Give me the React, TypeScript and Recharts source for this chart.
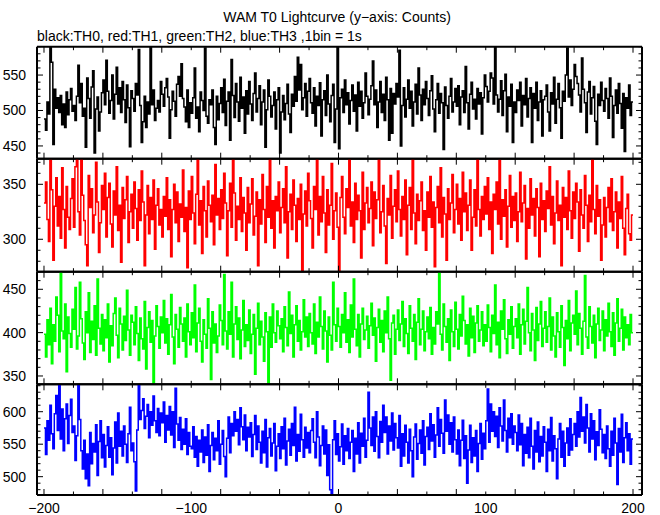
import { Line, LineChart, XAxis, YAxis } from "recharts";

// WAM T0 lightcurves, 1 s bins from t = -200 s
const TIME_START = -200;

const th0 = [
  488, 472, 512, 495, 589, 568, 452, 530, 503, 518, 497, 521, 480, 509, 476, 526, 494, 515, 531, 499,
  507, 486, 520, 564, 511, 538, 492, 503, 448, 546, 517, 489, 533, 556, 440, 502, 519, 471, 498, 525,
  543, 508, 571, 527, 496, 514, 550, 488, 523, 561, 509, 532, 497, 541, 515, 483, 536, 504, 449, 528,
  517, 499, 538, 522, 586, 507, 455, 484, 520, 476, 512, 495, 590, 508, 529, 486, 503, 514, 498, 541,
  523, 506, 532, 545, 519, 461, 501, 527, 513, 492, 537, 548, 520, 566, 517, 505, 484, 529, 476, 511,
  496, 518, 560, 489, 505, 470, 526, 514, 500, 588, 492, 482, 515, 508, 529, 476, 452, 520, 487, 510,
  532, 497, 544, 479, 513, 526, 458, 572, 521, 490, 538, 512, 485, 547, 503, 519, 468, 528, 495, 541,
  509, 486, 524, 553, 498, 517, 535, 480, 512, 529, 448, 501, 543, 520, 491, 507, 526, 474, 515, 532,
  440, 498, 521, 487, 510, 537, 495, 469, 523, 506, 548, 513, 575, 529, 565, 501, 518, 538, 492, 527,
  545, 511, 496, 532, 478, 520, 507, 539, 464, 515, 528, 493, 550, 509, 484, 521, 537, 455, 502, 590,
  446, 518, 530, 497, 543, 508, 525, 481, 514, 536, 499, 522, 471, 540, 506, 527, 489, 511, 553, 520,
  494, 516, 535, 570, 508, 529, 476, 512, 541, 497, 523, 486, 547, 515, 458, 531, 468, 524, 509, 538,
  519, 585, 450, 507, 532, 491, 516, 543, 503, 527, 478, 512, 537, 495, 560, 522, 486, 530, 508, 541,
  517, 493, 528, 549, 502, 470, 515, 538, 496, 524, 511, 445, 533, 507, 489, 520, 545, 498, 512, 531,
  506, 535, 480, 519, 528, 497, 562, 511, 474, 523, 540, 502, 516, 488, 531, 509, 525, 467, 518, 550,
  534, 512, 527, 553, 546, 509, 590, 522, 498, 516, 542, 493, 528, 551, 470, 519, 506, 537, 455, 512,
  497, 529, 514, 540, 478, 521, 508, 545, 491, 517, 532, 455, 524, 503, 540, 486, 512, 528, 464, 515,
  520, 536, 498, 471, 525, 509, 547, 482, 516, 538, 504, 461, 527, 513, 550, 588, 519, 543, 507, 530,
  565, 548, 538, 522, 498, 574, 530, 511, 469, 526, 541, 495, 518, 534, 485, 452, 523, 507, 540, 514,
  499, 531, 517, 489, 546, 520, 462, 507, 529, 496, 538, 510, 475, 524, 442, 518, 503, 536, 493, 512,
];

const th1 = [
  333, 352, 318, 298, 372, 345, 281, 330, 356, 312, 339, 301, 365, 327, 292, 348, 320, 309, 337, 355,
  311, 366, 378, 325, 304, 381, 340, 317, 295, 276, 358, 329, 346, 306, 322, 370, 334, 288, 315, 349,
  327, 360, 302, 338, 351, 314, 293, 344, 322, 366, 308, 331, 279, 347, 319, 336, 357, 297, 325, 341,
  310, 352, 328, 299, 345, 317, 362, 334, 276, 322, 349, 305, 338, 318, 354, 291, 331, 346, 313, 327,
  302, 339, 321, 356, 309, 336, 284, 327, 350, 315, 343, 298, 332, 320, 363, 307, 329, 274, 344, 318,
  357, 324, 296, 341, 378, 313, 335, 287, 348, 326, 302, 353, 331, 316, 340, 295, 368, 322, 337, 309,
  345, 319, 360, 333, 285, 326, 351, 311, 375, 342, 299, 330, 318, 356, 307, 338, 324, 290, 347, 315,
  332, 355, 304, 321, 343, 276, 336, 314, 359, 327, 297, 348, 320, 377, 310, 335, 292, 339, 326, 352,
  306, 329, 346, 315, 366, 283, 325, 341, 309, 354, 331, 298, 337, 318, 350, 271, 323, 344, 312, 360,
  335, 319, 292, 348, 327, 382, 304, 339, 316, 357, 324, 288, 345, 313, 331, 369, 300, 326, 342, 311,
  271, 338, 357, 320, 305, 346, 329, 374, 312, 334, 297, 351, 318, 340, 326, 283, 361, 309, 333, 347,
  315, 328, 352, 294, 343, 319, 336, 376, 306, 325, 349, 312, 278, 337, 322, 358, 301, 330, 345, 316,
  362, 327, 303, 339, 318, 354, 286, 331, 347, 309, 373, 324, 296, 341, 317, 335, 352, 308, 326, 290,
  343, 320, 357, 311, 334, 275, 329, 348, 315, 365, 302, 338, 323, 281, 346, 318, 333, 359, 306, 327,
  350, 314, 337, 299, 361, 325, 342, 308, 331, 354, 290, 320, 345, 312, 376, 327, 303, 339, 318, 348,
  323, 356, 309, 334, 287, 341, 327, 352, 314, 372, 300, 336, 321, 345, 293, 330, 358, 311, 339, 317,
  342, 298, 325, 361, 316, 333, 349, 282, 328, 310, 355, 322, 337, 303, 346, 329, 284, 351, 318, 335,
  307, 344, 328, 366, 313, 339, 296, 324, 353, 317, 331, 276, 347, 320, 338, 309, 362, 326, 301, 343,
  319, 351, 334, 289, 345, 322, 310, 358, 331, 298, 340, 316, 375, 327, 305, 349, 321, 336, 281, 313,
  338, 302, 329, 347, 316, 355, 308, 325, 343, 292, 334, 319, 357, 310, 286, 328, 341, 305, 299, 322,
];

const th2 = [
  398, 372, 415, 386, 428, 364, 409, 390, 441, 420, 378, 470, 402, 393, 433, 355, 418, 399, 383, 427,
  404, 452, 381, 396, 458, 416, 388, 369, 424, 400, 446, 377, 413, 392, 431, 374, 462, 405, 387, 421,
  379, 415, 394, 433, 366, 408, 385, 422, 440, 397, 371, 428, 410, 380, 419, 391, 449, 403, 374, 420,
  412, 386, 430, 399, 368, 417, 393, 381, 436, 358, 406, 424, 389, 414, 342, 396, 431, 407, 382, 418,
  400, 437, 388, 416, 375, 409, 444, 395, 364, 421, 404, 383, 429, 410, 390, 417, 372, 433, 401, 386,
  423, 394, 455, 378, 411, 428, 390, 366, 415, 398, 382, 439, 405, 346, 424, 388, 410, 377, 396, 432,
  414, 386, 467, 402, 381, 424, 398, 458, 372, 410, 430, 392, 417, 370, 403, 437, 384, 409, 391, 426,
  376, 398, 421, 352, 405, 434, 386, 413, 395, 367, 423, 401, 341, 418, 383, 433, 400, 389, 425, 408,
  393, 416, 378, 430, 406, 385, 447, 399, 420, 372, 409, 431, 390, 414, 380, 401, 438, 395, 418, 384,
  422, 400, 387, 433, 376, 412, 395, 441, 407, 381, 425, 402, 366, 418, 397, 380, 458, 409, 390, 428,
  407, 383, 421, 400, 446, 389, 415, 377, 432, 395, 462, 404, 385, 421, 372, 410, 428, 392, 403, 419,
  382, 408, 434, 397, 417, 367, 406, 427, 389, 414, 378, 425, 400, 441, 393, 345, 411, 420, 375, 404,
  426, 391, 410, 436, 384, 416, 399, 376, 431, 405, 390, 421, 369, 412, 439, 386, 404, 425, 379, 401,
  418, 393, 429, 375, 406, 387, 424, 410, 470, 398, 380, 433, 407, 389, 416, 368, 426, 401, 384, 435,
  404, 381, 421, 396, 442, 414, 387, 409, 373, 428, 394, 419, 377, 411, 431, 390, 403, 424, 385, 409,
  390, 432, 406, 378, 420, 399, 455, 386, 412, 371, 425, 404, 438, 393, 376, 415, 398, 430, 382, 407,
  416, 394, 433, 375, 409, 427, 387, 413, 452, 400, 379, 422, 403, 368, 429, 391, 410, 436, 384, 405,
  424, 389, 407, 440, 380, 418, 396, 372, 423, 401, 383, 431, 406, 362, 414, 393, 437, 379, 411, 420,
  398, 448, 386, 422, 405, 375, 413, 466, 395, 382, 430, 407, 388, 420, 371, 410, 428, 391, 403, 425,
  379, 415, 396, 434, 401, 384, 423, 374, 411, 439, 390, 405, 427, 380, 418, 394, 409, 386, 421, 400,
];

const th3 = [
  575, 534, 586, 556, 610, 566, 543, 597, 625, 571, 641, 558, 604, 540, 589, 612, 551, 594, 619, 568,
  578, 525, 563, 640, 588, 540, 512, 556, 497, 535, 486, 568, 520, 551, 538, 580, 502, 554, 586, 529,
  565, 515, 548, 577, 530, 560, 503, 544, 584, 521, 598, 547, 570, 532, 578, 550, 522, 566, 607, 540,
  552, 523, 478, 572, 640, 588, 602, 620, 574, 593, 611, 560, 600, 579, 624, 586, 568, 605, 563, 598,
  583, 615, 553, 594, 572, 608, 564, 600, 545, 636, 581, 556, 591, 542, 573, 550, 589, 534, 568, 547,
  543, 577, 530, 562, 516, 556, 538, 572, 522, 561, 533, 580, 508, 548, 568, 526, 559, 540, 586, 519,
  550, 571, 531, 500, 559, 592, 537, 582, 563, 600, 570, 588, 549, 606, 577, 557, 595, 540, 576, 561,
  583, 531, 565, 594, 542, 578, 553, 521, 570, 537, 588, 515, 560, 574, 532, 552, 582, 509, 547, 566,
  528, 577, 543, 590, 518, 555, 573, 533, 582, 548, 607, 524, 565, 539, 596, 557, 530, 576, 544, 568,
  537, 571, 589, 553, 529, 600, 561, 517, 548, 578, 535, 572, 502, 549, 480, 472, 557, 586, 534, 566,
  524, 546, 581, 519, 563, 540, 574, 528, 553, 571, 508, 559, 535, 583, 521, 567, 547, 590, 530, 556,
  630, 575, 548, 592, 539, 600, 562, 529, 585, 553, 610, 568, 592, 535, 578, 555, 598, 541, 582, 560,
  544, 594, 516, 566, 532, 579, 553, 521, 573, 540, 500, 561, 581, 527, 551, 572, 536, 586, 518, 562,
  576, 542, 597, 555, 580, 530, 564, 606, 547, 588, 567, 536, 618, 570, 595, 550, 583, 538, 592, 557,
  535, 572, 517, 556, 587, 528, 563, 490, 541, 579, 522, 560, 532, 571, 508, 551, 582, 527, 567, 543,
  586, 635, 553, 612, 570, 600, 562, 593, 545, 606, 578, 555, 618, 571, 538, 590, 560, 597, 550, 578,
  568, 540, 595, 549, 582, 517, 565, 536, 576, 529, 590, 547, 512, 571, 538, 584, 523, 562, 532, 577,
  553, 508, 573, 540, 591, 524, 563, 543, 497, 558, 582, 530, 570, 516, 552, 575, 533, 589, 541, 565,
  582, 547, 600, 561, 622, 570, 592, 552, 611, 575, 538, 597, 558, 586, 526, 569, 548, 603, 573, 537,
  565, 528, 578, 543, 516, 570, 533, 590, 552, 488, 574, 538, 596, 522, 560, 583, 540, 566, 519, 558,
];

const X_DOMAIN = [-204.75, 206.11];
const X_TICKS = [
  -200, -180, -160, -140, -120, -100, -80, -60, -40, -20, 0, 20, 40, 60, 80, 100, 120, 140, 160, 180, 200,
];
const X_LABELS = [-200, -100, 0, 100, 200];

const Y_LABELS_TH0 = [450, 500, 550];
const Y_LABELS_TH1 = [300, 350];
const Y_LABELS_TH2 = [350, 400, 450];
const Y_LABELS_TH3 = [500, 550, 600];

const W = 660;
const H = 515;
const PLOT_LEFT = 37;
const PLOT_RIGHT = 642;
const AXIS = 1; // thickness reserved for each axis box
const FONT = "'Liberation Sans', Arial, Helvetica, sans-serif";

function tenTicks(lo: number, hi: number) {
  const out: number[] = [];
  for (let v = Math.ceil(lo / 10) * 10; v <= hi; v += 10) out.push(v);
  return out;
}

const fmt = (v: number) => (v < 0 ? "\u2212" + Math.abs(v) : String(v));

const panels = [
  { id: "th0", values: th0, color: "#000000", domain: [432, 590], labels: Y_LABELS_TH0, top: 46.7, bottom: 158.7 },
  { id: "th1", values: th1, color: "#ff0000", domain: [270.5, 373.3], labels: Y_LABELS_TH1, top: 158.7, bottom: 271.7 },
  { id: "th2", values: th2, color: "#00ff00", domain: [340.4, 470.3], labels: Y_LABELS_TH2, top: 271.7, bottom: 384.3 },
  { id: "th3", values: th3, color: "#0000ff", domain: [471.8, 642.2], labels: Y_LABELS_TH3, top: 384.3, bottom: 495 },
];

function XTick(props: any) {
  const { x, y, payload, side, showLabel } = props;
  const v = payload.value as number;
  const len = v % 40 === 0 ? 6 : 3.5;
  const dir = side === "top" ? 1 : -1;
  return (
    <g>
      <line x1={x} x2={x} y1={y} y2={y + dir * len} stroke="#000" strokeWidth={1} />
      {showLabel && X_LABELS.includes(v) && (
        <text x={x} y={y + 18} textAnchor="middle" fontSize={14} fontFamily={FONT} fill="#000">
          {fmt(v)}
        </text>
      )}
    </g>
  );
}

function YTick(props: any) {
  const { x, y, payload, side, labels } = props;
  const v = payload.value as number;
  const major = labels.includes(v);
  const len = major ? 6 : 3.5;
  const dir = side === "left" ? 1 : -1;
  return (
    <g>
      <line x1={x} x2={x + dir * len} y1={y} y2={y} stroke="#000" strokeWidth={1} />
      {side === "left" && major && (
        <text x={x - 11} y={y + 5} textAnchor="end" fontSize={14} fontFamily={FONT} fill="#000">
          {v}
        </text>
      )}
    </g>
  );
}

function Panel({ p, last }: { p: (typeof panels)[number]; last: boolean }) {
  const data = p.values.map((v, i) => ({ t: TIME_START + i, v }));
  data.push({ t: TIME_START + p.values.length, v: p.values[p.values.length - 1] });
  const yTicks = tenTicks(p.domain[0], p.domain[1]);
  const axisLine = { stroke: "#000", strokeWidth: 2 };
  const common = {
    type: "number" as const,
    allowDataOverflow: true,
    interval: 0 as const,
    tickSize: 0,
    tickMargin: 0,
    tickLine: false,
    axisLine,
  };
  return (
    <div style={{ position: "absolute", left: 0, top: 0 }}>
      <LineChart
        width={W}
        height={H}
        data={data}
        margin={{
          top: p.top - AXIS,
          bottom: H - p.bottom - AXIS,
          left: PLOT_LEFT - AXIS,
          right: W - PLOT_RIGHT - AXIS,
        }}
      >
        <XAxis
          {...common}
          xAxisId="bottom"
          dataKey="t"
          domain={X_DOMAIN}
          ticks={X_TICKS}
          height={AXIS}
          tick={(tp: any) => <XTick {...tp} side="bottom" showLabel={last} />}
        />
        <XAxis
          {...common}
          xAxisId="top"
          orientation="top"
          dataKey="t"
          domain={X_DOMAIN}
          ticks={X_TICKS}
          height={AXIS}
          tick={(tp: any) => <XTick {...tp} side="top" showLabel={false} />}
        />
        <YAxis
          {...common}
          yAxisId="left"
          domain={p.domain}
          ticks={yTicks}
          width={AXIS}
          tick={(tp: any) => <YTick {...tp} side="left" labels={p.labels} />}
        />
        <YAxis
          {...common}
          yAxisId="right"
          orientation="right"
          domain={p.domain}
          ticks={yTicks}
          width={AXIS}
          tick={(tp: any) => <YTick {...tp} side="right" labels={p.labels} />}
        />
        <Line
          xAxisId="bottom"
          yAxisId="left"
          dataKey="v"
          type="stepAfter"
          stroke={p.color}
          strokeWidth={1.5}
          dot={false}
          activeDot={false}
          isAnimationActive={false}
        />
      </LineChart>
    </div>
  );
}

export default function App() {
  return (
    <div style={{ position: "absolute", left: 0, top: 0, width: W, height: H, background: "#fff" }}>
      {panels.map((p, i) => (
        <Panel key={p.id} p={p} last={i === panels.length - 1} />
      ))}
      <svg width={W} height={H} style={{ position: "absolute", left: 0, top: 0, pointerEvents: "none" }}>
        <text x={337} y={22} textAnchor="middle" fontSize={14} fontFamily={FONT} fill="#000">
          WAM T0 Lightcurve (y{"\u2212"}axis: Counts)
        </text>
        <text x={37} y={41} fontSize={14} fontFamily={FONT} fill="#000">
          black:TH0, red:TH1, green:TH2, blue:TH3 ,1bin = 1s
        </text>
      </svg>
    </div>
  );
}
